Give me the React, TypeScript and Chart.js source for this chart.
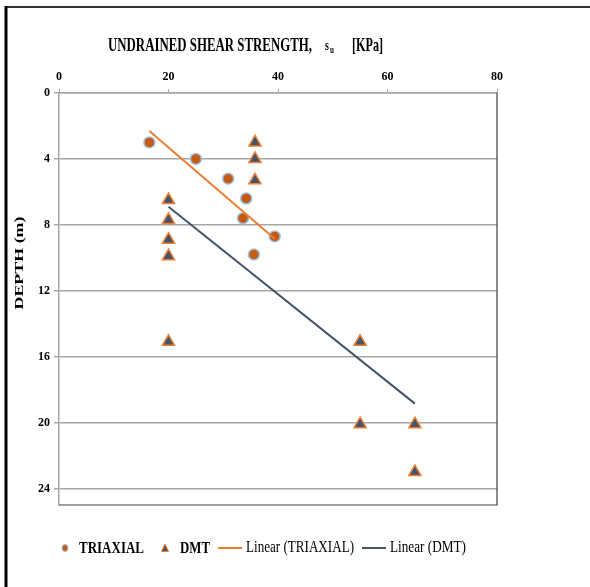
import React, { useEffect, useRef } from "react";
import { Chart, registerables } from "chart.js";

Chart.register(...registerables);

// ---- data ----
const triaxialShear = [16.5, 25, 30.9, 34.2, 33.6, 39.4, 35.6];
const triaxialDepth = [3, 4, 5.2, 6.4, 7.6, 8.7, 9.8];

const dmtShear = [35.8, 35.8, 35.8, 20, 20, 20, 20, 20, 55, 55, 65, 65];
const dmtDepth = [3, 4, 5.3, 6.5, 7.7, 8.9, 9.9, 15.1, 15.1, 20.1, 20.1, 23];

const triaxialTrendShear = [16.5, 39.4];
const triaxialTrendDepth = [2.3, 8.85];
const dmtTrendShear = [20, 65];
const dmtTrendDepth = [6.9, 18.85];

const xTicks = [0, 20, 40, 60, 80];
const yTicks = [0, 4, 8, 12, 16, 20, 24];

const titleMain = "UNDRAINED SHEAR STRENGTH,";
const titleSym = "s";
const titleSub = "u";
const titleUnit = "[KPa]";
const yTitle = "DEPTH (m)";
const legendNames = ["TRIAXIAL", "DMT", "Linear (TRIAXIAL)", "Linear (DMT)"];

const ORANGE_FILL = "#C55A11";
const ORANGE = "#ED7D31";
const SLATE = "#44546A";
const LIGHT_BLUE = "#9DC3E6";
const GRID = "#A6A6A6";
const FONT = "'Liberation Serif', 'Times New Roman', serif";

const zip = (xs: number[], ys: number[]) => xs.map((x, i) => ({ x, y: ys[i] }));

const decorPlugin = {
  id: "decor",
  afterDraw(chart: any) {
    const ctx = chart.ctx as CanvasRenderingContext2D;
    const a = chart.chartArea;
    ctx.save();
    // outer frame (top & left visible)
    ctx.strokeStyle = "#333";
    ctx.lineWidth = 2;
    ctx.beginPath();
    ctx.moveTo(5, 7);
    ctx.lineTo(590, 7);
    ctx.stroke();
    ctx.strokeStyle = "#000";
    ctx.lineWidth = 3;
    ctx.beginPath();
    ctx.moveTo(6, 6);
    ctx.lineTo(6, 587);
    ctx.stroke();

    // plot box right & bottom
    ctx.strokeStyle = "#404040";
    ctx.lineWidth = 1.2;
    ctx.beginPath();
    ctx.moveTo(a.left, a.bottom);
    ctx.lineTo(a.right, a.bottom);
    ctx.lineTo(a.right, a.top);
    ctx.stroke();

    // title
    ctx.fillStyle = "#000";
    ctx.textBaseline = "middle";
    ctx.textAlign = "left";
    ctx.save();
    ctx.translate(0, 46);
    ctx.scale(1, 1.5);
    ctx.font = `bold 13px ${FONT}`;
    const mw = ctx.measureText(titleMain).width;
    ctx.save();
    ctx.translate(108, 0);
    ctx.scale(204 / mw, 1);
    ctx.fillText(titleMain, 0, 0);
    ctx.restore();
    ctx.font = `bold 10px ${FONT}`;
    ctx.fillText(titleSym, 325, 0);
    ctx.font = `bold 7px ${FONT}`;
    ctx.fillText(titleSub, 330, 3);
    ctx.font = `bold 13px ${FONT}`;
    const uw = ctx.measureText(titleUnit).width;
    ctx.save();
    ctx.translate(352, 0);
    ctx.scale(31 / uw, 1);
    ctx.fillText(titleUnit, 0, 0);
    ctx.restore();
    ctx.restore();

    // y title
    ctx.save();
    ctx.translate(20, 263);
    ctx.rotate(-Math.PI / 2);
    ctx.font = `bold 13px ${FONT}`;
    ctx.textAlign = "center";
    const yw = ctx.measureText(yTitle).width;
    ctx.scale(93 / yw, 1);
    ctx.fillText(yTitle, 0, 0);
    ctx.restore();

    // legend
    const ly = 548;
    ctx.textAlign = "left";
    ctx.textBaseline = "middle";
    // circle
    ctx.beginPath();
    ctx.ellipse(65, ly, 3, 3.5, 0, 0, Math.PI * 2);
    ctx.fillStyle = ORANGE_FILL;
    ctx.fill();
    ctx.strokeStyle = LIGHT_BLUE;
    ctx.lineWidth = 1;
    ctx.stroke();
    ctx.fillStyle = "#000";
    ctx.save();
    ctx.translate(79, ly);
    ctx.scale(1, 1.35);
    ctx.font = `bold 13px ${FONT}`;
    let w = ctx.measureText(legendNames[0]).width;
    ctx.scale(65 / w, 1);
    ctx.fillText(legendNames[0], 0, 0);
    ctx.restore();
    // triangle
    ctx.beginPath();
    ctx.moveTo(165, ly - 4);
    ctx.lineTo(168.5, ly + 3.5);
    ctx.lineTo(161.5, ly + 3.5);
    ctx.closePath();
    ctx.fillStyle = SLATE;
    ctx.fill();
    ctx.strokeStyle = ORANGE;
    ctx.lineWidth = 1;
    ctx.stroke();
    ctx.fillStyle = "#000";
    ctx.save();
    ctx.translate(180, ly);
    ctx.scale(1, 1.35);
    ctx.font = `bold 13px ${FONT}`;
    w = ctx.measureText(legendNames[1]).width;
    ctx.scale(30 / w, 1);
    ctx.fillText(legendNames[1], 0, 0);
    ctx.restore();
    // lines
    ctx.lineWidth = 2;
    ctx.strokeStyle = ORANGE;
    ctx.beginPath();
    ctx.moveTo(218, ly);
    ctx.lineTo(242, ly);
    ctx.stroke();
    ctx.save();
    ctx.translate(246, ly);
    ctx.scale(1, 1.35);
    ctx.font = `12px ${FONT}`;
    w = ctx.measureText(legendNames[2]).width;
    ctx.scale(108 / w, 1);
    ctx.fillText(legendNames[2], 0, 0);
    ctx.restore();
    ctx.strokeStyle = SLATE;
    ctx.beginPath();
    ctx.moveTo(362, ly);
    ctx.lineTo(386, ly);
    ctx.stroke();
    ctx.save();
    ctx.translate(390, ly);
    ctx.scale(1, 1.35);
    ctx.font = `12px ${FONT}`;
    w = ctx.measureText(legendNames[3]).width;
    ctx.scale(76 / w, 1);
    ctx.fillText(legendNames[3], 0, 0);
    ctx.restore();

    ctx.restore();
  },
};

export default function App() {
  const ref = useRef<HTMLCanvasElement | null>(null);
  useEffect(() => {
    document.body.style.margin = "0";
    if (!ref.current) return;
    const chart = new Chart(ref.current, {
      type: "scatter",
      data: {
        datasets: [
          {
            label: legendNames[2],
            type: "line",
            data: zip(triaxialTrendShear, triaxialTrendDepth),
            borderColor: ORANGE,
            borderWidth: 2,
            pointRadius: 0,
            fill: false,
            order: 0,
          },
          {
            label: legendNames[3],
            type: "line",
            data: zip(dmtTrendShear, dmtTrendDepth),
            borderColor: SLATE,
            borderWidth: 2,
            pointRadius: 0,
            fill: false,
            order: 0,
          },
          {
            label: legendNames[0],
            data: zip(triaxialShear, triaxialDepth),
            backgroundColor: ORANGE_FILL,
            borderColor: LIGHT_BLUE,
            borderWidth: 1.5,
            pointRadius: 5.5,
            pointStyle: "circle",
            order: 1,
          },
          {
            label: legendNames[1],
            data: zip(dmtShear, dmtDepth),
            backgroundColor: SLATE,
            borderColor: ORANGE,
            borderWidth: 1.5,
            pointRadius: 7,
            pointStyle: "triangle",
            order: 1,
          },
        ],
      },
      options: {
        animation: false,
        responsive: false,
        devicePixelRatio: 1,
        layout: { padding: { left: 0, top: 0, right: 93, bottom: 82 } },
        plugins: {
          legend: { display: false },
          tooltip: { enabled: false },
          title: { display: false },
        },
        scales: {
          x: {
            type: "linear",
            position: "top",
            min: 0,
            max: 80,
            afterBuildTicks: (axis: any) => {
              axis.ticks = xTicks.map((v) => ({ value: v }));
            },
            afterFit: (axis: any) => {
              axis.height = 93;
            },
            ticks: {
              color: "#000",
              font: { family: FONT, size: 12, weight: "bold" },
              padding: 5,
            },
            grid: {
              drawOnChartArea: false,
              drawTicks: true,
              tickLength: 4,
              color: GRID,
              lineWidth: 1,
            },
            border: { color: GRID, width: 1.5 },
          },
          y: {
            type: "linear",
            reverse: true,
            min: 0,
            max: 25,
            afterBuildTicks: (axis: any) => {
              axis.ticks = yTicks.map((v) => ({ value: v }));
            },
            afterFit: (axis: any) => {
              axis.width = 59;
            },
            ticks: {
              color: "#000",
              font: { family: FONT, size: 12, weight: "bold" },
              padding: 4,
            },
            grid: {
              color: GRID,
              lineWidth: 1.5,
              tickLength: 5,
            },
            border: { color: GRID, width: 1.5 },
          },
        },
      },
      plugins: [decorPlugin],
    });
    return () => chart.destroy();
  }, []);
  return (
    <div style={{ width: 590, height: 587, background: "#fff" }}>
      <canvas ref={ref} width={590} height={587} style={{ display: "block" }} />
    </div>
  );
}
